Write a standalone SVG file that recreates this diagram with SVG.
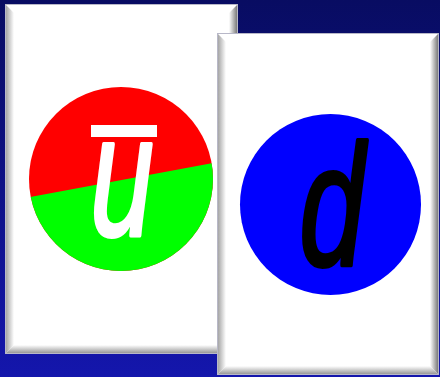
<svg xmlns="http://www.w3.org/2000/svg" width="440" height="377" viewBox="0 0 440 377">
  <defs>
    <linearGradient id="bg" x1="0" y1="0" x2="0" y2="1">
      <stop offset="0" stop-color="#080c62"/>
      <stop offset="1" stop-color="#1416ac"/>
    </linearGradient>
    <linearGradient id="bvL" x1="0" y1="0" x2="1" y2="0">
      <stop offset="0" stop-color="#9a9a9a"/>
      <stop offset="1" stop-color="#ffffff"/>
    </linearGradient>
    <linearGradient id="bvR" x1="0" y1="0" x2="1" y2="0">
      <stop offset="0" stop-color="#ffffff"/>
      <stop offset="1" stop-color="#6a6a6a"/>
    </linearGradient>
    <linearGradient id="bvB" x1="0" y1="0" x2="0" y2="1">
      <stop offset="0" stop-color="#ffffff"/>
      <stop offset="1" stop-color="#8c8c8c"/>
    </linearGradient>
    <clipPath id="clipU">
      <circle cx="121" cy="179" r="92"/>
    </clipPath>
    <style>
      .face { fill: #ffffff; }
      .edge { fill: none; stroke: #b8b8c8; stroke-width: 1; }
      .glyph { font-family: "Liberation Sans", Arial, sans-serif; font-style: italic; font-size: 172px; text-anchor: middle; stroke-width: 4; stroke-linejoin: round; }
    </style>
  </defs>

  <rect width="440" height="377" fill="url(#bg)"/>

  <g id="card-ubar">
    <rect class="face" x="5" y="4" width="233" height="350"/>
    <polygon points="5,4 14,13 14,345 5,354" fill="url(#bvL)"/>
    <polygon points="238,4 229,13 229,345 238,354" fill="url(#bvR)"/>
    <polygon points="5,354 14,345 229,345 238,354" fill="url(#bvB)"/>
    <rect class="edge" x="5.5" y="4.5" width="232" height="349"/>
    <g clip-path="url(#clipU)">
      <rect x="20" y="80" width="210" height="200" fill="#ff0000"/>
      <polygon points="0,202.6 240,158 240,300 0,300" fill="#00ff00"/>
    </g>
    <rect x="91" y="125" width="66" height="12" fill="#ffffff"/>
    <text class="glyph" fill="#ffffff" stroke="#ffffff" transform="translate(122,235) scale(0.66,1)" x="0" y="0">u</text>
  </g>

  <g id="card-d">
    <rect class="face" x="217" y="33" width="222" height="342"/>
    <polygon points="217,33 226,42 226,366 217,375" fill="url(#bvL)"/>
    <polygon points="439,33 430,42 430,366 439,375" fill="url(#bvR)"/>
    <polygon points="217,375 226,366 430,366 439,375" fill="url(#bvB)"/>
    <rect class="edge" x="217.5" y="33.5" width="221" height="341"/>
    <circle cx="330.5" cy="204.5" r="90.5" fill="#0000ff"/>
    <text class="glyph" fill="#000000" stroke="#000000" transform="translate(332,265) scale(0.68,1)" x="0" y="0">d</text>
  </g>

  <g id="connectors"/>
</svg>
